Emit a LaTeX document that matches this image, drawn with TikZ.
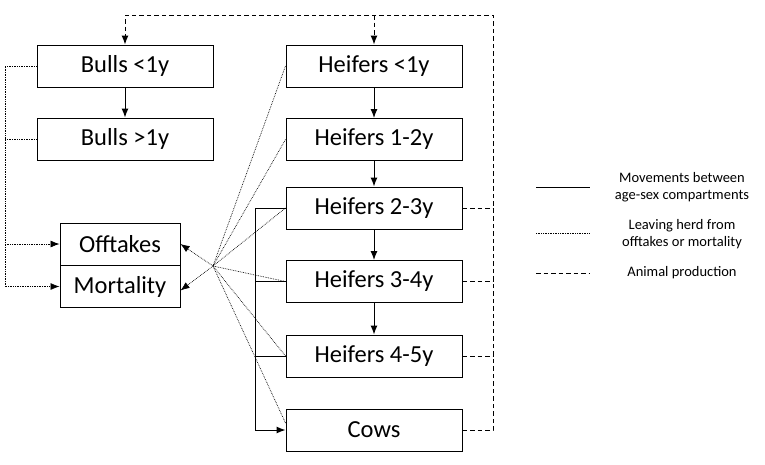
\documentclass[tikz,border=0pt]{standalone}
\usepackage{fontspec}
\setmainfont{Carlito}
\usetikzlibrary{arrows.meta, calc}

\begin{document}
\begin{tikzpicture}[x=1pt, y=-1pt, line width=1pt, >={Latex[length=9pt, width=7pt]},
	box/.style={draw, minimum width=176pt, minimum height=42pt, inner sep=0pt, font=\fontsize{24.5}{28}\selectfont},
	sinkbox/.style={box, minimum width=120pt},
	prod/.style={dash pattern=on 4.5pt off 3pt},
	leave/.style={densely dotted, line width=0.7pt},
	legendtext/.style={align=center, font=\fontsize{14.5}{17.5}\selectfont}]

	\useasboundingbox (0,0) rectangle (765,464);

	% compartments
	\node[box] (B1) at (125,66) {Bulls <1y};
	\node[box] (B2) at (125,139) {Bulls >1y};
	\node[box] (H1) at (374,66) {Heifers <1y};
	\node[box] (H2) at (374,139.5) {Heifers 1-2y};
	\node[box] (H3) at (374,208) {Heifers 2-3y};
	\node[box] (H4) at (374,281.5) {Heifers 3-4y};
	\node[box] (H5) at (374,356) {Heifers 4-5y};
	\node[box] (C) at (374,430) {Cows};
	\node[sinkbox] (O) at (120,244) {Offtakes};
	\node[sinkbox] (M) at (120,286.5) {Mortality};

	\coordinate (L) at (5,0);
	\coordinate (S) at (255,0);
	\coordinate (R) at (493,15);
	\coordinate (X) at (213,266);

	% ageing
	\draw[->] (B1) -- (B2);
	\draw[->] (H1) -- (H2);
	\draw[->] (H2) -- (H3);
	\draw[->] (H3) -- (H4);
	\draw[->] (H4) -- (H5);
	\draw[->] (H3.west) -- (H3.west -| S) -- (C.west -| S) -- (C.west);
	\draw (H4.west) -- (H4.west -| S);
	\draw (H5.west) -- (H5.west -| S);

	% leaving the herd
	\draw[leave, ->] (B1.west) -- (B1.west -| L) -- (M.west -| L) -- (M.west);
	\draw[leave] (B2.west) -- (B2.west -| L);
	\draw[leave, ->] (O.west -| L) -- (O.west);
	\foreach \n in {H1, H2, H3, H4, H5}
		\draw[leave] (\n.west) -- (X);
	\draw[leave] ($(C.west)+(0,-7)$) -- (X);
	\draw[leave, ->] (X) -- (O.east);
	\draw[leave, ->] (X) -- ($(M.east)+(0,4)$);

	% production
	\draw[prod, ->] (C.east) -- (C.east -| R) -- (R) -- (R -| B1.north) -- (B1.north);
	\draw[prod, ->] (R -| H1.north) -- (H1.north);
	\draw[prod] (H3.east) -- (H3.east -| R);
	\draw[prod] (H4.east) -- (H4.east -| R);
	\draw[prod] (H5.east) -- (H5.east -| R);

	% legend
	\coordinate (k1) at (536,187);
	\coordinate (k2) at (536,233);
	\coordinate (k3) at (536,273);
	\draw (k1) -- ++(54,0);
	\draw[leave] (k2) -- ++(54,0);
	\draw[prod] (k3) -- ++(54,0);
	\node[legendtext] (t1) at (682,187) {Movements between\\age-sex compartments};
	\node[legendtext] (t2) at (682,234) {Leaving herd from\\offtakes or mortality};
	\node[legendtext] (t3) at (682,273) {Animal production};

\end{tikzpicture}
\end{document}
